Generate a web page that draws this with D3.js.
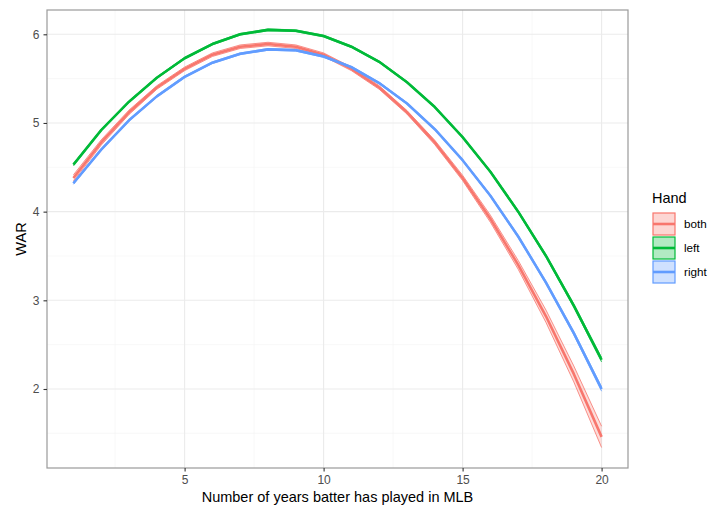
<!DOCTYPE html>
<html>
<head>
<meta charset="utf-8">
<script src="https://cdn.jsdelivr.net/npm/d3@7"></script>
<style>
  body { margin: 0; background: #fff; }
  text { font-family: "Liberation Sans", Arial, sans-serif; }
</style>
</head>
<body>
<div id="chart"></div>
<script>

let years = [1, 2, 3, 4, 5, 6, 7, 8, 9, 10, 11, 12, 13, 14, 15, 16, 17, 18, 19, 20];

let both_war  = [4.38, 4.78, 5.12, 5.40, 5.61, 5.77, 5.86, 5.89, 5.86, 5.77, 5.61, 5.40, 5.12, 4.78, 4.38, 3.92, 3.40, 2.82, 2.17, 1.46];
let left_war  = [4.53, 4.92, 5.24, 5.51, 5.73, 5.89, 6.00, 6.05, 6.04, 5.98, 5.86, 5.69, 5.46, 5.18, 4.84, 4.45, 4.00, 3.50, 2.94, 2.33];
let right_war = [4.32, 4.70, 5.03, 5.30, 5.52, 5.68, 5.78, 5.83, 5.82, 5.75, 5.63, 5.45, 5.22, 4.93, 4.58, 4.18, 3.72, 3.20, 2.63, 2.00];

// half width of the confidence band
let both_se  = [0.035, 0.03, 0.025, 0.02, 0.02, 0.02, 0.02, 0.02, 0.02, 0.02, 0.02, 0.02, 0.02, 0.025, 0.03, 0.04, 0.05, 0.07, 0.09, 0.12];
let left_se  = [0.012, 0.01, 0.01, 0.01, 0.01, 0.01, 0.01, 0.01, 0.01, 0.01, 0.01, 0.01, 0.01, 0.01, 0.01, 0.012, 0.014, 0.016, 0.02, 0.025];
let right_se = [0.012, 0.01, 0.01, 0.01, 0.01, 0.01, 0.01, 0.01, 0.01, 0.01, 0.01, 0.01, 0.01, 0.01, 0.01, 0.012, 0.014, 0.016, 0.02, 0.025];

let hands = ["both", "left", "right"];
let hand_colors = ["#F8766D", "#00BA38", "#619CFF"];

let x_ticks = [5, 10, 15, 20];
let y_ticks = [2, 3, 4, 5, 6];
let x_minor = [2.5, 7.5, 12.5, 17.5];
let y_minor = [1.5, 2.5, 3.5, 4.5, 5.5];

let series = [
    { hand: "both",  war: both_war,  se: both_se },
    { hand: "left",  war: left_war,  se: left_se },
    { hand: "right", war: right_war, se: right_se }
];

let chart_width = 709;
let chart_height = 510;

let margin_top = 10;
let margin_right = 81;
let margin_bottom = 42;
let margin_left = 47;

let width = chart_width - margin_left - margin_right;
let height = chart_height - margin_top - margin_bottom;

let svg = d3.select("#chart")
            .append("svg")
            .attr("width", chart_width)
            .attr("height", chart_height);

let g = svg.append("g")
           .attr("transform", "translate(" + margin_left + "," + margin_top + ")");

let color = d3.scaleOrdinal().domain(hands).range(hand_colors);

let xScale = d3.scaleLinear()
               .domain([0.05, 20.95])
               .range([0, width]);

let yScale = d3.scaleLinear()
               .domain([1.109, 6.274])
               .range([height, 0]);

// grid
g.selectAll(".x_minor").data(x_minor).enter().append("line")
    .attr("x1", d => xScale(d)).attr("x2", d => xScale(d))
    .attr("y1", 0).attr("y2", height)
    .attr("stroke", "#F3F3F3").attr("stroke-width", 0.6);
g.selectAll(".y_minor").data(y_minor).enter().append("line")
    .attr("y1", d => yScale(d)).attr("y2", d => yScale(d))
    .attr("x1", 0).attr("x2", width)
    .attr("stroke", "#F3F3F3").attr("stroke-width", 0.6);
g.selectAll(".x_major").data(x_ticks).enter().append("line")
    .attr("x1", d => xScale(d)).attr("x2", d => xScale(d))
    .attr("y1", 0).attr("y2", height)
    .attr("stroke", "#EBEBEB").attr("stroke-width", 1.1);
g.selectAll(".y_major").data(y_ticks).enter().append("line")
    .attr("y1", d => yScale(d)).attr("y2", d => yScale(d))
    .attr("x1", 0).attr("x2", width)
    .attr("stroke", "#EBEBEB").attr("stroke-width", 1.1);

let area = d3.area()
             .x((d, i) => xScale(years[i]))
             .y0(d => yScale(d[0]))
             .y1(d => yScale(d[1]));

let line = d3.line()
             .x((d, i) => xScale(years[i]))
             .y(d => yScale(d));

for (let s of series) {
    let band = s.war.map((v, i) => [v - s.se[i], v + s.se[i]]);
    g.append("path")
        .attr("d", area(band))
        .attr("fill", color(s.hand))
        .attr("fill-opacity", 0.25)
        .attr("stroke", "none");
    g.append("path")
        .attr("d", line(band.map(d => d[0])))
        .attr("fill", "none")
        .attr("stroke", color(s.hand))
        .attr("stroke-width", 0.8);
    g.append("path")
        .attr("d", line(band.map(d => d[1])))
        .attr("fill", "none")
        .attr("stroke", color(s.hand))
        .attr("stroke-width", 0.8);
    g.append("path")
        .attr("d", line(s.war))
        .attr("fill", "none")
        .attr("stroke", color(s.hand))
        .attr("stroke-width", 2.6)
        .attr("stroke-linejoin", "round");
}

// panel border
g.append("rect")
    .attr("x", 0).attr("y", 0)
    .attr("width", width).attr("height", height)
    .attr("fill", "none")
    .attr("stroke", "#9A9A9A")
    .attr("stroke-width", 1.2);

// axes
let x_axis = g.append("g")
    .attr("transform", "translate(0," + height + ")")
    .call(d3.axisBottom(xScale).tickValues(x_ticks).tickSize(3.5).tickSizeOuter(0).tickPadding(4).tickFormat(d3.format("d")));
let y_axis = g.append("g")
    .call(d3.axisLeft(yScale).tickValues(y_ticks).tickSize(3.5).tickSizeOuter(0).tickPadding(4).tickFormat(d3.format("d")));

for (let ax of [x_axis, y_axis]) {
    ax.select(".domain").remove();
    ax.selectAll(".tick line").attr("stroke", "#333333").attr("stroke-width", 1.1);
    ax.selectAll(".tick text")
        .attr("fill", "#4D4D4D")
        .style("font-size", "12px")
        .style("font-family", "'Liberation Sans', Arial, sans-serif");
}

svg.append("text")
    .attr("x", margin_left + width / 2)
    .attr("y", 502)
    .attr("text-anchor", "middle")
    .style("font-size", "14.5px")
    .attr("fill", "#000")
    .text("Number of years batter has played in MLB");

svg.append("text")
    .attr("transform", "translate(26," + (margin_top + height / 2) + ") rotate(-90)")
    .attr("text-anchor", "middle")
    .style("font-size", "14.5px")
    .attr("fill", "#000")
    .text("WAR");

// legend
let legend = svg.append("g").attr("transform", "translate(652,212)");

legend.append("text")
    .attr("x", 0).attr("y", -9)
    .style("font-size", "14.5px")
    .attr("fill", "#000")
    .text("Hand");

let key_size = 24;
let keys = legend.selectAll(".key").data(hands).enter().append("g")
    .attr("transform", (d, i) => "translate(0," + (i * key_size) + ")");

keys.append("rect")
    .attr("x", 1).attr("y", 1)
    .attr("width", key_size - 2).attr("height", key_size - 2)
    .attr("fill", d => color(d))
    .attr("fill-opacity", 0.3)
    .attr("stroke", d => color(d))
    .attr("stroke-width", 1.2);

keys.append("line")
    .attr("x1", 1).attr("x2", key_size - 1)
    .attr("y1", key_size / 2).attr("y2", key_size / 2)
    .attr("stroke", d => color(d))
    .attr("stroke-width", 2.6);

keys.append("text")
    .attr("x", key_size + 8)
    .attr("y", key_size / 2)
    .attr("dy", "0.35em")
    .style("font-size", "11.7px")
    .attr("fill", "#000")
    .text(d => d);

</script>
</body>
</html>
